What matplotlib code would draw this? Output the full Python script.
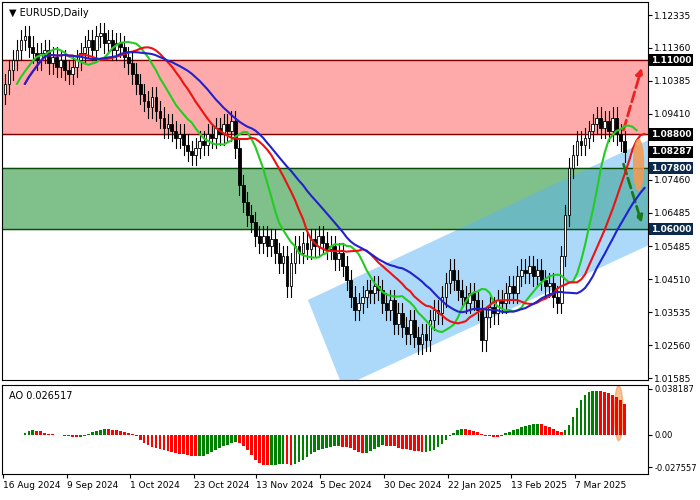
import matplotlib
matplotlib.use("Agg")
import matplotlib.pyplot as plt
import numpy as np
import pandas as pd
from matplotlib.patches import Polygon, Ellipse, Rectangle

closes = [1.103,1.107,1.110,1.113,1.116,1.117,
 1.114,1.112,1.110,1.112,1.113,1.109,1.111,1.108,1.110,
 1.107,1.106,1.108,1.110,1.112,
 1.114,1.116,1.113,1.117,1.118,1.115,1.116,1.113,1.115,1.114,
 1.111,1.109,1.106,1.103,
 1.100,1.098,1.096,1.099,1.095,
 1.093,1.090,1.091,1.089,1.087,1.088,1.085,
 1.083,1.082,1.084,
 1.086,1.085,1.088,1.087,1.090,1.088,1.091,1.089,
 1.092,
 1.084,1.073,1.068,
 1.064,1.062,1.058,
 1.056,1.058,1.055,1.057,
 1.053,1.050,1.052,1.043,
 1.050,1.055,1.053,1.056,
 1.054,1.057,1.055,1.058,1.056,
 1.054,1.055,1.051,1.053,1.049,
 1.045,1.040,1.036,1.038,
 1.040,1.042,1.041,1.043,1.042,
 1.038,1.036,1.039,1.032,1.035,
 1.031,1.029,1.033,1.028,1.026,
 1.029,1.027,1.033,1.036,
 1.035,1.040,1.044,1.048,1.045,
 1.042,1.040,1.038,1.041,1.039,1.036,
 1.027,1.034,
 1.037,1.035,1.039,1.038,1.041,
 1.043,1.041,1.046,1.048,1.047,
 1.049,1.046,1.048,1.045,1.043,
 1.044,1.040,
 1.038,1.052,1.064,1.078,
 1.082,1.086,1.085,1.087,
 1.089,1.091,1.093,1.090,1.092,
 1.089,1.093,1.088,1.086,
 1.08287]
date_labels = ["16 Aug 2024","9 Sep 2024","1 Oct 2024","23 Oct 2024","13 Nov 2024",
               "5 Dec 2024","30 Dec 2024","22 Jan 2025","13 Feb 2025","7 Mar 2025"]
date_pos = [-0.5,15.5,31.5,47.5,63.3,79.3,95.5,111.5,127.5,143.5]
price_ticks = [1.12335,1.11360,1.10385,1.09410,1.07460,1.06485,1.05485,1.04510,1.03535,1.02560,1.01585]
levels = [(1.11000,'black'),(1.08800,'black'),(1.08287,'black'),(1.07800,'#0b2a4a'),(1.06000,'#0b2a4a')]
ao_last_label = 0.026517

c = np.array(closes); n = len(c); idx = np.arange(n)
o = np.r_[c[0]-0.003, c[:-1]]
hi = np.maximum(o, c) + 0.003
lo = np.minimum(o, c) - 0.003

fig = plt.figure(figsize=(7,5), dpi=100)
ax = fig.add_axes([0.003, 0.24, 0.922, 0.756])
ax2 = fig.add_axes([0.003, 0.052, 0.922, 0.178])
xl = (-0.75, 161.75)
ax.set_xlim(*xl); ax.set_ylim(1.0153, 1.1272)

ax.axhspan(1.088, 1.110, color='#ffaaaa', zorder=0)
ax.axhline(1.110, color='#7a0000', lw=1); ax.axhline(1.088, color='#7a0000', lw=1)
ax.axhspan(1.060, 1.078, color='#80c08a', zorder=0)
ax.axhline(1.078, color='#0a4a0a', lw=1); ax.axhline(1.060, color='#0a4a0a', lw=1)
ax.add_patch(Polygon([(76.25,1.03900),(85,1.01325),(174,1.06171),(165,1.0880)], closed=True,
                     color='#5ab4f5', alpha=0.5, lw=0, zorder=1))

for i in range(n):
    up = c[i] >= o[i]
    ax.plot([i,i],[lo[i],hi[i]], color='black', lw=0.8, zorder=3)
    ax.add_patch(Rectangle((i-0.35, min(o[i],c[i])), 0.7, max(abs(c[i]-o[i]),0.0003),
                 facecolor='white' if up else 'black', edgecolor='black', lw=0.6, zorder=4))

s = pd.Series(c)
lips = s.rolling(8, min_periods=1).mean(); teeth = s.rolling(14, min_periods=1).mean(); jaw = s.rolling(24, min_periods=1).mean()
ax.plot(idx+3, lips, color='#22cc22', lw=1.5, zorder=5)
ax.plot(idx+5, teeth, color='#ee1111', lw=1.5, zorder=5)
ax.plot(idx+5, jaw, color='#2222cc', lw=1.5, zorder=5)

ax.annotate('', xy=(160.5,1.1085), xytext=(155.5,1.0885),
            arrowprops=dict(arrowstyle='-|>', ls='--', color='#ee2222', lw=2))
ax.annotate('', xy=(160.5,1.0610), xytext=(155.5,1.0800),
            arrowprops=dict(arrowstyle='-|>', ls='--', color='#1a7a1a', lw=2))
ax.add_patch(Ellipse((159.5,1.0790), 2.5, 0.015, color='#f59a50', alpha=0.85, zorder=6))

ax.yaxis.tick_right()
ax.set_yticks(price_ticks)
ax.set_yticklabels([f"{v:.5f}" for v in price_ticks], fontsize=6.5)
ax.set_xticks([])
for v, col in levels:
    ax.text(1.005, v, f"{v:.5f}", transform=ax.get_yaxis_transform(), fontsize=6.5, color='white',
            va='center', ha='left', fontweight='bold', bbox=dict(facecolor=col, edgecolor='none', pad=1.2))
ax.text(0.01, 0.985, '▼ EURUSD,Daily', transform=ax.transAxes, fontsize=7, va='top')

med = (pd.Series(hi) + pd.Series(lo)) / 2
ao = (med.rolling(5, min_periods=1).mean() - med.rolling(34, min_periods=1).mean()).values
cols = ['green' if i == 0 or ao[i] >= ao[i-1] else 'red' for i in range(n)]
ax2.bar(idx, ao, width=0.7, color=cols)
ax2.add_patch(Ellipse((154.5, 0.018), 2.2, 0.046, color='#f59a50', alpha=0.6, zorder=0))
ax2.set_xlim(*xl); ax2.set_ylim(-0.033, 0.0415)
ax2.yaxis.tick_right()
ax2.set_yticks([0.038187, 0.0, -0.027557])
ax2.set_yticklabels(['0.038187','0.00','-0.027557'], fontsize=6)
ax2.text(0.01, 0.93, f'AO {ao_last_label:.6f}', transform=ax2.transAxes, fontsize=7, va='top')
ax2.set_xticks(date_pos)
ax2.set_xticklabels(date_labels, fontsize=6.5, ha='left')
for a in (ax, ax2):
    a.tick_params(length=3, pad=2)
fig.savefig('out.png', dpi=100)
